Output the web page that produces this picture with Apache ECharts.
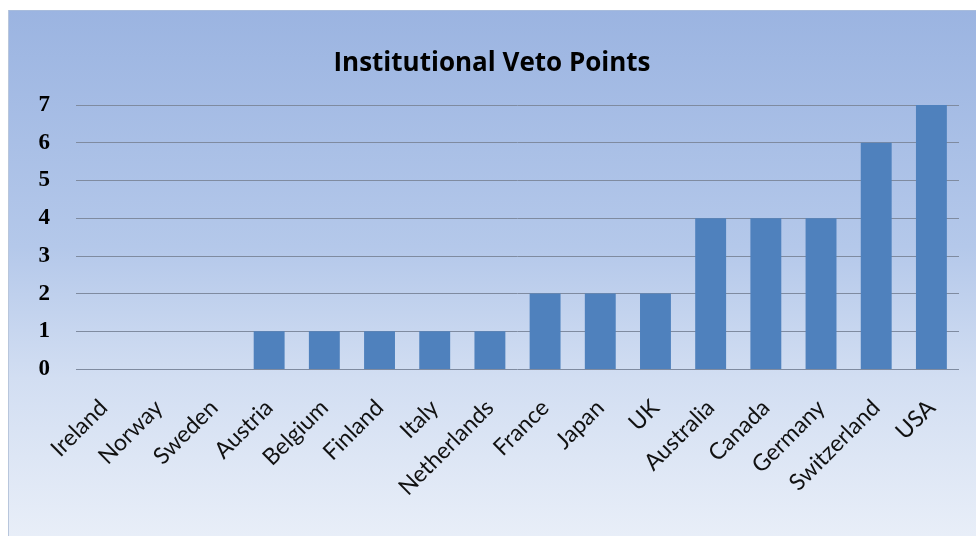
<!DOCTYPE html>
<html><head><meta charset="utf-8">
<script src="https://cdn.jsdelivr.net/npm/echarts@6/dist/echarts.min.js"></script>
<style>
html,body{margin:0;padding:0;background:#fff;width:976px;height:536px;overflow:hidden}
#c{position:absolute;left:8px;top:10px;width:968px;height:526px;
background:linear-gradient(to bottom,#9bb4e1 0%,#b4c8ea 45%,#d2def2 70%,#e8eef8 100%);
box-shadow: inset 1px 0 0 #b8c6dc, inset 0 1px 0 #a8bcdc;}
</style></head><body>
<div id="c"></div>
<script>
const categories = ["Ireland","Norway","Sweden","Austria","Belgium","Finland","Italy","Netherlands","France","Japan","UK","Australia","Canada","Germany","Switzerland","USA"];
const vetoPoints = [0,0,0,1,1,1,1,1,2,2,2,4,4,4,6,7];
const yTicks = [0,1,2,3,4,5,6,7];

const chart = echarts.init(document.getElementById('c'), null, {renderer:'canvas'});
chart.setOption({
  backgroundColor: 'transparent',
  animation: false,
  title: {
    text: 'Institutional Veto Points',
    left: 'center', top: 36,
    textStyle: {fontFamily: 'Open Sans', fontWeight: 'bold', fontSize: 26, color: '#000'}
  },
  grid: {left: 68, right: 17, top: 95, bottom: 167},
  xAxis: {
    type: 'category', data: categories,
    axisLine: {show: false}, axisTick: {show: false},
    axisLabel: {rotate: 45, interval: 0, margin: 35, fontFamily: 'Lato', fontSize: 23, color: '#111'}
  },
  yAxis: {
    type: 'value', min: 0, max: 7, interval: 1,
    axisLine: {show: false}, axisTick: {show: false},
    axisLabel: {margin: 26, fontFamily: 'Liberation Serif', fontWeight: 'bold', fontSize: 23, color: '#000',
      formatter: v => yTicks.includes(v) ? String(v) : ''},
    splitLine: {lineStyle: {color: '#7f8ba0', width: 1}}
  },
  series: [{
    type: 'bar', data: vetoPoints, barCategoryGap: '44%',
    itemStyle: {color: '#4f81bd'}
  }]
});
</script>
</body></html>
